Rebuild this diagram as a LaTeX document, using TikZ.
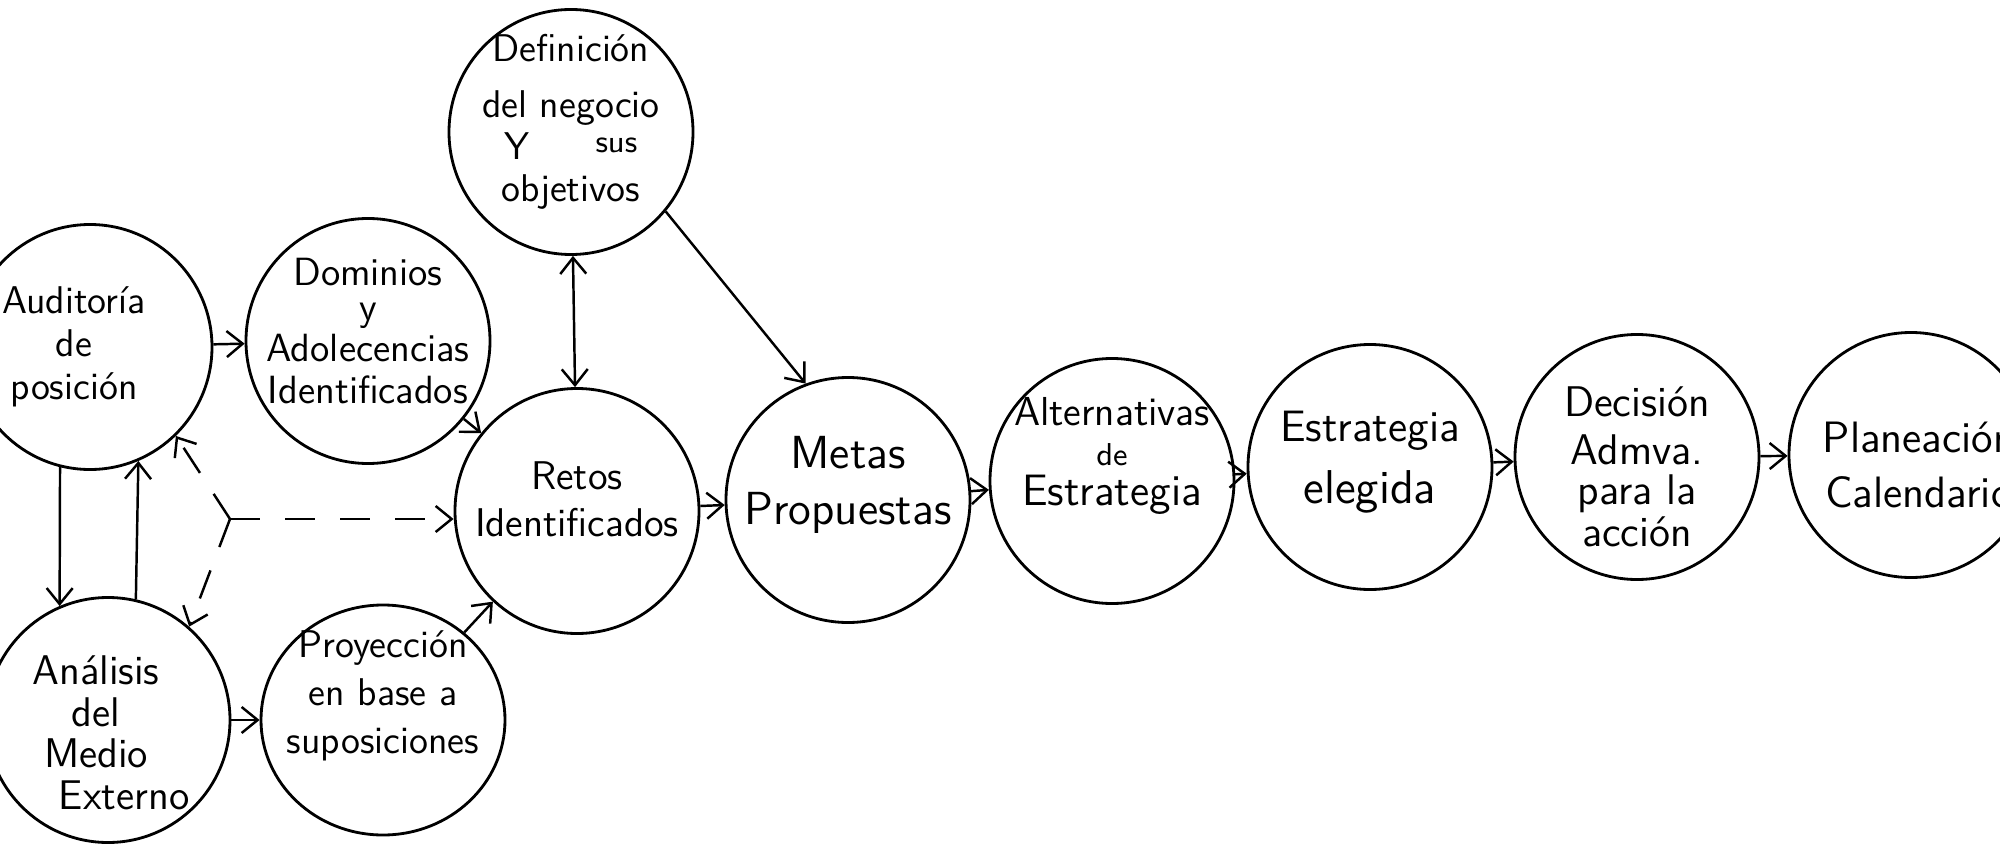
\documentclass[tikz,border=0pt]{standalone}
\usepackage{fontspec}
\usepackage{tikz}
\usetikzlibrary{shapes.geometric,arrows.meta,calc}

\newcommand{\mano}[2]{\sffamily\fontsize{#1}{#2}\selectfont}

\tikzset{
  etapa/.style={ellipse, draw, line width=0.8pt, minimum width=2.44cm, minimum height=2.45cm, inner sep=0pt},
  texto/.style={align=center, inner sep=0pt, font=\mano{11.5}{13}},
  flecha/.style={-{Straight Barb[length=1.6mm,width=2.6mm]}, line width=0.7pt},
  ambas/.style={{Straight Barb[length=1.6mm,width=2.6mm]}-{Straight Barb[length=1.6mm,width=2.6mm]}, line width=0.7pt},
  guion/.style={flecha, dash pattern=on 3mm off 2.5mm}
}

\begin{document}
\begin{tikzpicture}
    \useasboundingbox (0,0) rectangle (20,8.48);

    % Etapas de diagnostico (izquierda)
    \node[etapa] (aud) at (0.90,5.01) {};
    \node[texto, font=\mano{11}{12.2}] (aud-t) at ($(aud)+(-0.16,0)$) {Auditoría\\ de\\ posición};
    \node[etapa] (ana) at (1.08,1.28) {};
    \node[texto, font=\mano{11.8}{11.8}] (ana-t) at ($(ana)+(-0.12,-0.13)$) {Análisis\\ del\\ Medio\\ \hspace{16pt}Externo};
    \node[etapa] (dom) at (3.68,5.07) {};
    \node[texto, font=\mano{11.2}{11.8}] (dom-t) at ($(dom)+(0,0.1)$) {Dominios\\[-2pt] y\\ Adolecencias\\ Identificados};
    \node[etapa, minimum height=2.3cm] (proy) at (3.83,1.28) {};
    \node[texto, font=\mano{11}{13.7}] (proy-t) at ($(proy)+(0,0.24)$) {Proyección\\ en base a\\ suposiciones};

    % Definicion y retos
    \node[etapa] (defi) at (5.71,7.16) {};
    \node[texto, font=\mano{11}{12}] (defi-t) at ($(defi)+(0,0.1)$) {Definición\\[4pt] del negocio\\ Y\hspace{1.7em}\raisebox{2pt}{\small sus}\\ objetivos};
    \node[etapa] (retos) at (5.77,3.37) {};
    \node[texto, font=\mano{11.4}{13.3}] (retos-t) at ($(retos)+(0,0.12)$) {Retos\\ Identificados};

    % Cadena de metas a planeacion
    \node[etapa] (metas) at (8.48,3.48) {};
    \node[texto, font=\mano{13.2}{16}] (metas-t) at ($(metas)+(0,0.15)$) {Metas\\ Propuestas};
    \node[etapa] (alt) at (11.12,3.67) {};
    \node[texto, font=\mano{11.5}{11.5}] (alt-t) at ($(alt)+(0,0.25)$) {Alternativas\\ {\small de}\\ {\fontsize{12.5}{11.5}\selectfont Estrategia}};
    \node[etapa] (est) at (13.70,3.81) {};
    \node[texto, font=\mano{12.5}{17.8}] (est-t) at ($(est)+(0,0.05)$) {Estrategia\\ {\fontsize{13.5}{17.8}\selectfont elegida}};
    \node[etapa] (deci) at (16.37,3.91) {};
    \node[texto, font=\mano{12.2}{11.5}] (deci-t) at ($(deci)+(0,-0.1)$) {Decisión\\[2pt] Admva.\\ para la\\[0.5pt] acción};
    \node[etapa] (plan) at (19.11,3.93) {};
    \node[texto, font=\mano{12.5}{15.6}] (plan-t) at ($(plan)+(0.08,-0.1)$) {Planeación\\ Calendario};

    % Conexiones
    \draw[flecha] (aud) -- (dom);
    \draw[flecha] (dom) -- (retos);
    \draw[flecha] (aud.-104) -- (ana.113);
    \draw[flecha] (ana.77) -- (aud.-67);
    \draw[flecha] (ana) -- (proy);
    \draw[flecha] (proy) -- (retos);
    \draw[ambas] (defi) -- (retos);
    \draw[flecha] (defi.-40) -- (metas.110);
    \draw[flecha] (retos) -- (metas);
    \draw[flecha] (metas) -- (alt);
    \draw[flecha] (alt) -- (est);
    \draw[flecha] (est) -- (deci);
    \draw[flecha] (deci) -- (plan);

    % Lineas punteadas
    \coordinate (J) at (2.30,3.29);
    \draw[guion] (J) -- (aud.-46);
    \draw[guion] (J) -- (ana.49);
    \draw[guion] (J) -- (J -| retos.west);
\end{tikzpicture}
\end{document}
